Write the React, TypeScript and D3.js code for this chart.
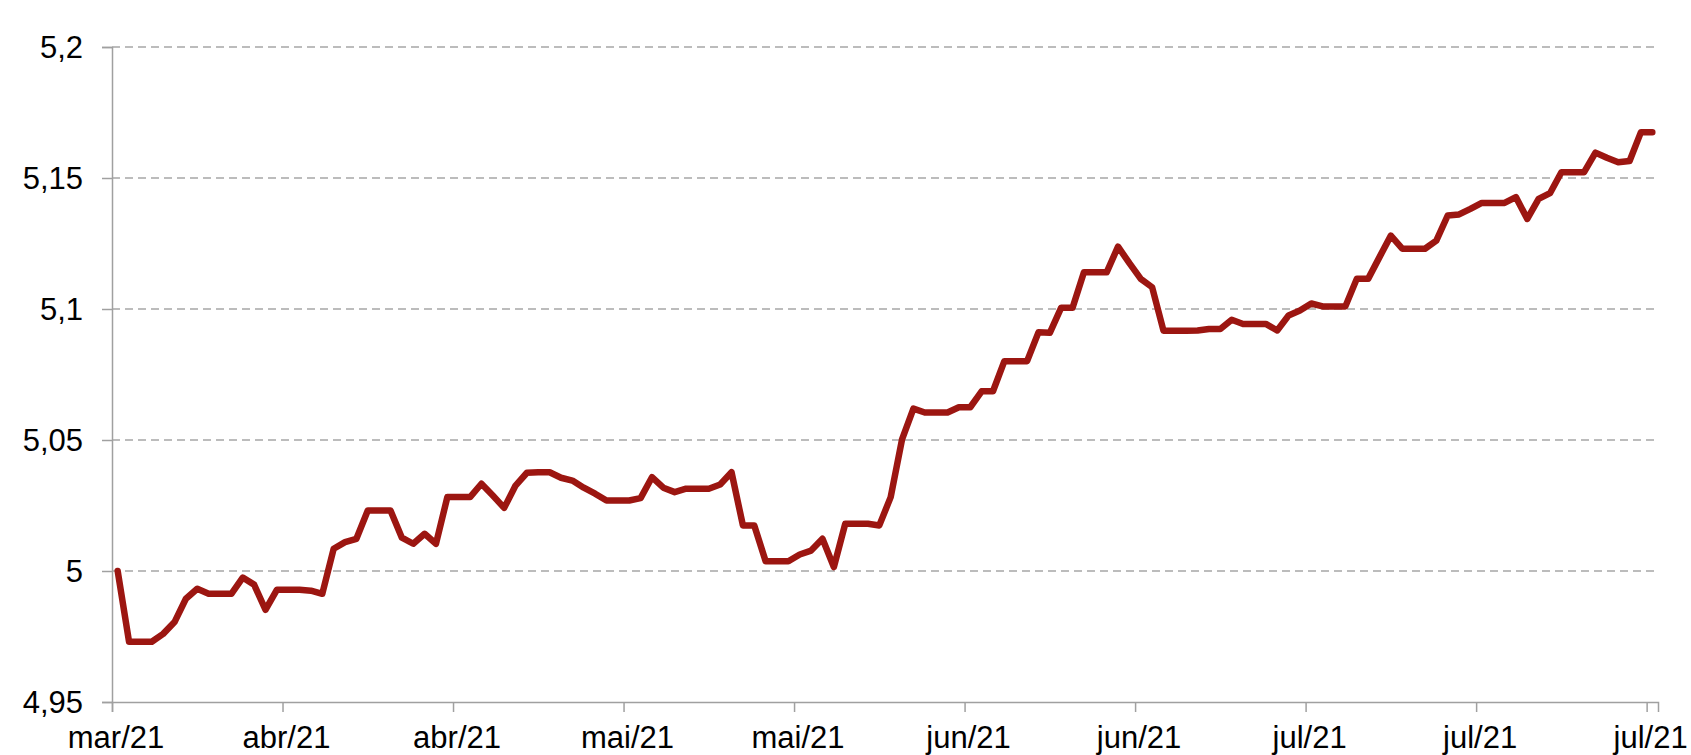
import * as d3 from "d3";
import { useRef, useEffect, ReactElement } from "react";

// daily values, starting 18/mar/2021
const startDate = new Date(Date.UTC(2021, 2, 18));
const values: number[] = [
    5.000, 4.973, 4.973, 4.973, 4.976, 4.9805, 4.9894, 4.9932, 4.9913, 4.9913,
    4.9913, 4.9975, 4.9948, 4.9852, 4.9928, 4.9928, 4.9928, 4.9925, 4.9913, 5.0085,
    5.011, 5.0123, 5.0231, 5.0231, 5.0231, 5.0127, 5.0104, 5.0142, 5.0104, 5.0282,
    5.0282, 5.0282, 5.0333, 5.0288, 5.0241, 5.0326, 5.0375, 5.0377, 5.0377, 5.0356,
    5.0345, 5.0318, 5.0295, 5.0269, 5.0269, 5.0269, 5.0278, 5.0358, 5.0318, 5.0301,
    5.0314, 5.0314, 5.0314, 5.033, 5.0377, 5.0174, 5.0174, 5.0037, 5.0037, 5.0037,
    5.0063, 5.0078, 5.0123, 5.0015, 5.018, 5.018, 5.018, 5.0174, 5.0282, 5.0502,
    5.062, 5.0605, 5.0605, 5.0605, 5.0625, 5.0625, 5.0686, 5.0686, 5.0801, 5.0801,
    5.0801, 5.0911, 5.0909, 5.1005, 5.1005, 5.114, 5.114, 5.114, 5.1238, 5.1175,
    5.1115, 5.1083, 5.0917, 5.0917, 5.0917, 5.0918, 5.0924, 5.0924, 5.0959, 5.0943,
    5.0943, 5.0943, 5.0918, 5.0975, 5.0994, 5.1021, 5.101, 5.101, 5.101, 5.1115,
    5.1115, 5.1198, 5.128, 5.123, 5.123, 5.123, 5.1261, 5.1357, 5.1361, 5.1382,
    5.1405, 5.1405, 5.1405, 5.1427, 5.1344, 5.142, 5.1442, 5.1522, 5.1522, 5.1522,
    5.1597, 5.1577, 5.156, 5.1565, 5.1675, 5.1675,
];

// x ticks every 15 days
const xTickLabels = ["mar/21", "abr/21", "abr/21", "mai/21", "mai/21", "jun/21", "jun/21", "jul/21", "jul/21", "jul/21"];
const yTicks = [4.95, 5, 5.05, 5.1, 5.15, 5.2];
const yTickLabels = ["4,95", "5", "5,05", "5,1", "5,15", "5,2"];

const width = 1691;
const height = 755;
const marginLeft = 112;
const marginRight = 33;
const marginTop = 47;
const marginBottom = 53;

const App = (): ReactElement => {
    const svgRef = useRef(null);

    useEffect(() => {
        if (!svgRef.current) return;
        const svg = d3.select(svgRef.current);
        const font = "'Liberation Sans', Arial, sans-serif";

        const data = values.map((v, i) => ({ date: d3.utcDay.offset(startDate, i), value: v }));

        // one slot per day, points sit in the middle of their slot
        const xScale = d3.scaleUtc()
            .domain([startDate, d3.utcDay.offset(startDate, values.length)])
            .range([marginLeft, width - marginRight]);
        const yScale = d3.scaleLinear()
            .domain([4.95, 5.2])
            .range([height - marginBottom, marginTop]);

        const xMid = (d: Date) => xScale(d3.utcHour.offset(d, 12));
        const xTickDates = xTickLabels.map((_, k) => d3.utcDay.offset(startDate, 15 * k));

        // dashed grid
        svg.append("g")
            .selectAll("line")
            .data(yTicks.slice(1))
            .enter()
            .append("line")
                .attr("x1", marginLeft)
                .attr("x2", width - marginRight)
                .attr("y1", (d) => yScale(d))
                .attr("y2", (d) => yScale(d))
                .attr("stroke", "#a6a6a6")
                .attr("stroke-width", 1.4)
                .attr("stroke-dasharray", "8,5");

        //attach yAxis
        const yAxis = svg.append("g")
            .attr("transform", "translate(" + marginLeft + ",0)")
            .call(d3.axisLeft(yScale)
                .tickValues(yTicks)
                .tickSize(10)
                .tickPadding(19)
                .tickFormat((d, i) => yTickLabels[i]));

        //attach xAxis
        const xAxis = svg.append("g")
            .attr("transform", "translate(0," + (height - marginBottom) + ")")
            .call(d3.axisBottom(xScale)
                .tickValues(xTickDates)
                .tickSize(10)
                .tickPadding(14)
                .tickFormat((d, i) => xTickLabels[i]));

        [xAxis, yAxis].forEach((g) => {
            g.select(".domain").attr("stroke", "#a0a0a0").attr("stroke-width", 1.5);
            g.selectAll(".tick line").attr("stroke", "#a0a0a0").attr("stroke-width", 1.5);
            g.selectAll("text")
                .attr("fill", "#000")
                .style("font-family", font)
                .style("font-size", "31px");
        });
        yAxis.selectAll("text").attr("dy", "0.35em");
        xAxis.selectAll("text").attr("dx", 3.5).attr("dy", "0.71em");

        // series line
        const line = d3.line<{ date: Date, value: number }>()
            .x((d) => xMid(d.date))
            .y((d) => yScale(d.value));

        svg.append("path")
            .datum(data)
            .attr("d", line)
            .attr("fill", "none")
            .attr("stroke", "#9c1611")
            .attr("stroke-width", 6.5)
            .attr("stroke-linejoin", "round")
            .attr("stroke-linecap", "round");

        return () => {
            svg.selectAll("*").remove();
        };
    }, []);

    return (
        <svg
            width={width}
            height={height}
            ref={svgRef}
            style={{ position: "absolute", left: 0, top: 0, background: "#fff" }}
        ></svg>
    );
};

export default App;
